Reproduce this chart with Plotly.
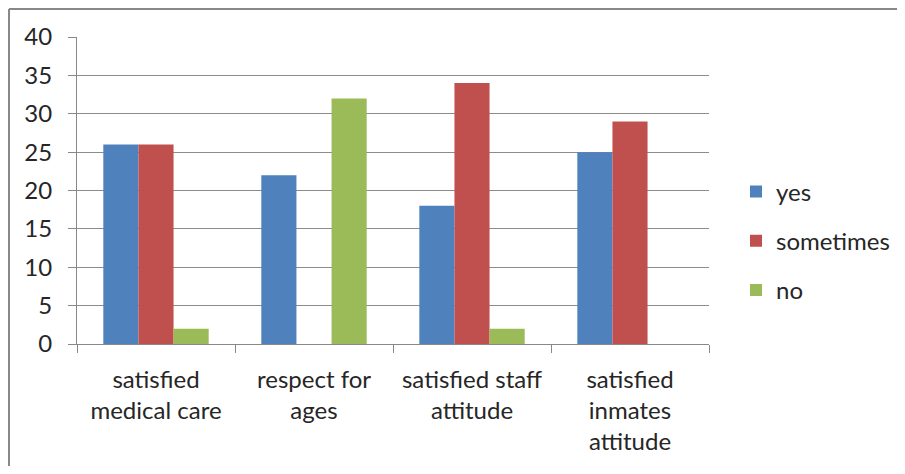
import plotly.graph_objects as go

categories = ["satisfied<br>medical care", "respect for<br>ages", "satisfied staff<br>attitude", "satisfied<br>inmates<br>attitude"]
yes_vals = [26, 22, 18, 25]
sometimes_vals = [26, 0, 34, 29]
no_vals = [2, 32, 2, 0]
series = [("yes", yes_vals, "#4F81BD"), ("sometimes", sometimes_vals, "#C0504D"), ("no", no_vals, "#9BBB59")]
y_ticks = [0, 5, 10, 15, 20, 25, 30, 35, 40]

FONT = "Lato, 'Open Sans', sans-serif"
TXT = "#262626"

fig = go.Figure()
for name, vals, col in series:
    fig.add_trace(go.Bar(x=categories, y=vals, name=name, marker=dict(color=col, line=dict(width=0)),
                         legendgroup=name))

OFF = 8  # page body margin
W, H = 905 - 2 * OFF, 474 - 2 * OFF
L, T = 77 - OFF, 37 - OFF
pw, ph = 632, 307
R, B = W - L - pw, H - T - ph

def px_x(p):
    return (p - OFF - L) / pw

def px_y(p):
    return (T + ph - (p - OFF)) / ph

fig.update_layout(
    width=W, height=H,
    margin=dict(l=L, r=R, t=T, b=B, autoexpand=False),
    paper_bgcolor="white", plot_bgcolor="white",
    barmode="group", bargap=0.333, bargroupgap=0,
    font=dict(family=FONT, size=24, color=TXT),
    showlegend=True,
    legend=dict(x=px_x(736), y=px_y(241), xanchor="left", yanchor="middle",
                font=dict(size=24, color=TXT), tracegroupgap=15,
                itemwidth=30, bgcolor="rgba(0,0,0,0)"),
    xaxis=dict(type="category", tickson="boundaries", ticks="outside", ticklen=8,
               tickcolor="#888", tickwidth=1, showline=True, linecolor="#888", linewidth=1,
               showgrid=False, tickfont=dict(size=24, color=TXT), tickangle=0,
               ticklabelstandoff=14),
    yaxis=dict(range=[0, 40], tickvals=y_ticks, ticks="outside", ticklen=8, tickcolor="#888",
               showline=True, linecolor="#888", linewidth=1, showgrid=True, gridcolor="#8c8c8c",
               gridwidth=1, zeroline=False, tickfont=dict(size=24, color=TXT),
               ticklabelstandoff=11),
)

# outer chart border (left and top visible)
fig.add_shape(type="line", xref="paper", yref="paper", x0=px_x(9), x1=px_x(OFF + W), y0=px_y(9), y1=px_y(9),
              line=dict(color="#888", width=2))
fig.add_shape(type="line", xref="paper", yref="paper", x0=px_x(9), x1=px_x(9), y0=px_y(9), y1=px_y(OFF + H),
              line=dict(color="#888", width=2))

fig.write_html("out.html")
